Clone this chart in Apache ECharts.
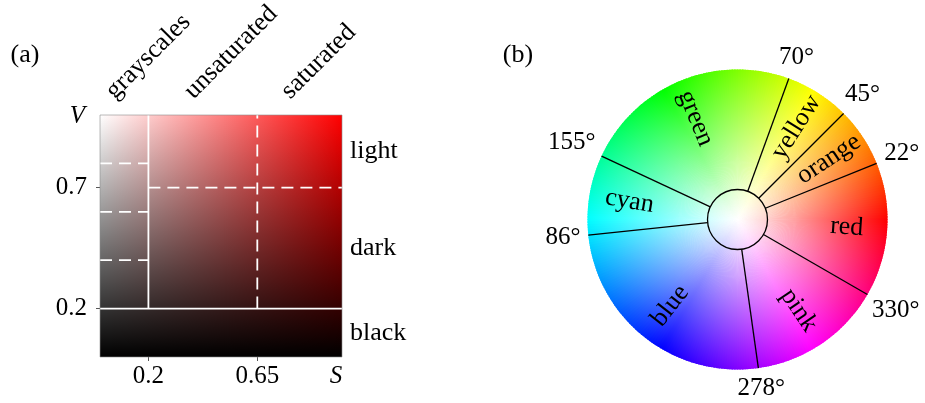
<!DOCTYPE html>
<html><head><meta charset="utf-8">
<script src="https://cdn.jsdelivr.net/npm/echarts@6/dist/echarts.min.js"></script>
<style>html,body{margin:0;padding:0;background:#fff}#c{width:925px;height:403px}</style>
</head><body><div id="c"></div>
<script>
// ---------- data: panel (a) HSV value/saturation map (hue = red) ----------
const sBounds = [0, 0.2, 0.65, 1];
const vBounds = [0, 0.2, 0.7, 1];
const sRegionNames = ['grayscales', 'unsaturated', 'saturated'];
const vRegionNames = ['black', 'dark', 'light'];
const grayLevels = [0.4, 0.6, 0.8];
const xTicks = [0.2, 0.65];
const yTicks = [0.2, 0.7];
const panelHue = 0;

// ---------- data: panel (b) hue wheel ----------
const hueBounds = [22, 45, 70, 155, 186, 278, 330];
const hueBoundLabels = ['22°', '45°', '70°', '155°', '86°', '278°', '330°'];
const hueNames = ['orange', 'yellow', 'green', 'cyan', 'blue', 'pink', 'red'];
const innerRadius = 0.2;
const nameRadius = 0.73;

// ---------- helpers ----------
const FONT = "26px 'Liberation Serif'";
const NFONT = "25px 'Liberation Serif'";
const mctx = document.createElement('canvas').getContext('2d');
mctx.font = NFONT;
const textW = t => mctx.measureText(t).width;
function hsv(h, s, v) {
  h = ((h % 360) + 360) % 360;
  const c = v * s, x = c * (1 - Math.abs(((h / 60) % 2) - 1)), m = v - c;
  let r, g, b;
  if (h < 60) [r, g, b] = [c, x, 0];
  else if (h < 120) [r, g, b] = [x, c, 0];
  else if (h < 180) [r, g, b] = [0, c, x];
  else if (h < 240) [r, g, b] = [0, x, c];
  else if (h < 300) [r, g, b] = [x, 0, c];
  else [r, g, b] = [c, 0, x];
  const f = u => Math.round((u + m) * 255);
  return 'rgb(' + f(r) + ',' + f(g) + ',' + f(b) + ')';
}
const RAD = Math.PI / 180;

// segments of panel (a) derived from the region bounds
const segments = [
  [sBounds[1], vBounds[1], sBounds[1], 1, 0],
  [0, vBounds[1], 1, vBounds[1], 0],
  [sBounds[2], vBounds[1], sBounds[2], 1, 1],
  [sBounds[1], vBounds[2], 1, vBounds[2], 1]
].concat(grayLevels.map(v => [0, v, sBounds[1], v, 1]));

const wheelSteps = Array.from({length: 360}, (_, i) => [i]);

const chart = echarts.init(document.getElementById('c'));
const tickColor = '#555';
chart.setOption({
  animation: false,
  grid: {left: 100, top: 115, width: 242, height: 242},
  xAxis: {
    type: 'value', min: 0, max: 1,
    splitLine: {show: false}, axisLine: {show: false},
    axisTick: {show: true, customValues: xTicks, length: 4, lineStyle: {color: tickColor}},
    axisLabel: {customValues: xTicks, margin: 7, color: '#000', fontFamily: 'Liberation Serif', fontSize: 25},
    name: 'S', nameLocation: 'end', nameGap: -6,
    nameTextStyle: {fontFamily: 'Liberation Serif', fontStyle: 'italic', fontSize: 25, color: '#000',
      align: 'center', verticalAlign: 'top', padding: [7, 0, 0, 0]}
  },
  yAxis: {
    type: 'value', min: 0, max: 1,
    splitLine: {show: false}, axisLine: {show: false},
    axisTick: {show: true, customValues: yTicks, length: 4, lineStyle: {color: tickColor}},
    axisLabel: {customValues: yTicks, margin: 13, color: '#000', fontFamily: 'Liberation Serif', fontSize: 25},
    name: 'V', nameLocation: 'end', nameGap: -1,
    nameTextStyle: {fontFamily: 'Liberation Serif', fontStyle: 'italic', fontSize: 25, color: '#000',
      align: 'right', verticalAlign: 'middle', padding: [0, 15, 0, 0]}
  },
  polar: {center: [737.5, 219.5], radius: 150},
  angleAxis: {type: 'value', min: 0, max: 360, startAngle: 0, clockwise: false, show: false,
    axisLine: {show: false}, axisTick: {show: false}, axisLabel: {show: false}, splitLine: {show: false}},
  radiusAxis: {type: 'value', min: 0, max: 1, show: false,
    axisLine: {show: false}, axisTick: {show: false}, axisLabel: {show: false}, splitLine: {show: false}},
  graphic: [
    {type: 'text', x: 25, y: 55, style: {text: '(a)', font: FONT, fill: '#000', align: 'center', verticalAlign: 'middle'}},
    {type: 'text', x: 518, y: 55, style: {text: '(b)', font: FONT, fill: '#000', align: 'center', verticalAlign: 'middle'}}
  ],
  series: [
    {
      type: 'custom', coordinateSystem: 'cartesian2d', z: 1, silent: true,
      data: [[0, 0, 1, 1]], encode: {x: [0, 2], y: [1, 3]},
      renderItem(params, api) {
        const p0 = api.coord([api.value(0), api.value(3)]);
        const p1 = api.coord([api.value(2), api.value(1)]);
        const shape = {x: p0[0], y: p0[1], width: p1[0] - p0[0], height: p1[1] - p0[1]};
        return {type: 'group', children: [
          {type: 'rect', shape, style: {fill: new echarts.graphic.LinearGradient(0, 0, 1, 0,
            [{offset: 0, color: hsv(panelHue, 0, 1)}, {offset: 1, color: hsv(panelHue, 1, 1)}])}},
          {type: 'rect', shape, style: {fill: new echarts.graphic.LinearGradient(0, 0, 0, 1,
            [{offset: 0, color: 'rgba(0,0,0,0)'}, {offset: 1, color: 'rgba(0,0,0,1)'}])}}
        ]};
      }
    },
    {
      type: 'custom', coordinateSystem: 'cartesian2d', z: 2, silent: true,
      data: segments, encode: {x: [0, 2], y: [1, 3]},
      renderItem(params, api) {
        const a = api.coord([api.value(0), api.value(1)]);
        const b = api.coord([api.value(2), api.value(3)]);
        return {type: 'line', shape: {x1: a[0], y1: a[1], x2: b[0], y2: b[1]},
          style: {stroke: '#fff', lineWidth: 1.8, lineDash: api.value(4) ? [12, 7] : null}};
      }
    },
    {
      type: 'custom', coordinateSystem: 'cartesian2d', z: 3, silent: true,
      data: [[0, 0, 1, 1]], encode: {x: [0, 2], y: [1, 3]},
      renderItem(params, api) {
        const p0 = api.coord([0, 1]), p1 = api.coord([1, 0]);
        const children = [{type: 'rect', shape: {x: p0[0], y: p0[1], width: p1[0] - p0[0], height: p1[1] - p0[1]},
          style: {fill: 'none', stroke: 'rgba(142,142,142,0.6)', lineWidth: 1}}];
        sRegionNames.forEach((t, i) => {
          const p = api.coord([(sBounds[i] + sBounds[i + 1]) / 2, 1]);
          children.push({type: 'text', x: p[0] - 5, y: p[1] - 11, rotation: Math.PI / 4,
            style: {text: t, font: FONT, fill: '#000', align: 'left', verticalAlign: 'bottom'}});
        });
        vRegionNames.forEach((t, i) => {
          const p = api.coord([1, (vBounds[i] + vBounds[i + 1]) / 2]);
          children.push({type: 'text', x: p[0] + 8, y: p[1],
            style: {text: t, font: FONT, fill: '#000', align: 'left', verticalAlign: 'middle'}});
        });
        return {type: 'group', children};
      }
    },
    {
      type: 'custom', coordinateSystem: 'polar', z: 1, silent: true,
      data: wheelSteps,
      renderItem(params, api) {
        const h = wheelSteps[params.dataIndex][0];
        const c = api.coord([0, 0]), e = api.coord([1, 0]);
        const R = Math.hypot(e[0] - c[0], e[1] - c[1]);
        const ov = 0.3;
        return {type: 'sector',
          shape: {cx: c[0], cy: c[1], r0: 0, r: R, startAngle: -(h + 1 + ov) * RAD, endAngle: -(h - ov) * RAD, clockwise: true},
          style: {fill: new echarts.graphic.RadialGradient(c[0], c[1], R,
            [{offset: 0, color: '#fff'}, {offset: 1, color: hsv(h + 0.5, 1, 1)}], true)}};
      }
    },
    {
      type: 'custom', coordinateSystem: 'polar', z: 2, silent: true,
      data: [[0]],
      renderItem(params, api) {
        const c = api.coord([0, 0]), e = api.coord([1, 0]);
        const R = Math.hypot(e[0] - c[0], e[1] - c[1]);
        const children = [];
        hueBounds.forEach((h, i) => {
          const a = api.coord([innerRadius, h]), b = api.coord([1, h]);
          children.push({type: 'line', shape: {x1: a[0], y1: a[1], x2: b[0], y2: b[1]},
            style: {stroke: '#000', lineWidth: 1.3}});
          const dx = (b[0] - c[0]) / R, dy = (b[1] - c[1]) / R;
          const off = 7 + textW(hueBoundLabels[i]) / 2 * Math.abs(dx) + 10.5 * Math.abs(dy);
          children.push({type: 'text', x: b[0] + dx * off, y: b[1] + dy * off,
            style: {text: hueBoundLabels[i], font: NFONT, fill: '#000', align: 'center', verticalAlign: 'middle'}});
        });
        children.push({type: 'circle', shape: {cx: c[0], cy: c[1], r: innerRadius * R},
          style: {fill: 'none', stroke: '#000', lineWidth: 1.3}});
        hueNames.forEach((t, i) => {
          const a0 = hueBounds[i];
          let a1 = hueBounds[(i + 1) % hueBounds.length];
          if (a1 < a0) a1 += 360;
          const mid = ((a0 + a1) / 2) % 360;
          const p = api.coord([nameRadius, mid]);
          const rot = (mid > 90 && mid < 270) ? mid - 180 : (mid >= 270 ? mid - 360 : mid);
          children.push({type: 'text', x: p[0], y: p[1], rotation: rot * RAD,
            style: {text: t, font: FONT, fill: '#000', align: 'center', verticalAlign: 'middle'}});
        });
        return {type: 'group', children};
      }
    }
  ]
});
</script>
</body></html>
